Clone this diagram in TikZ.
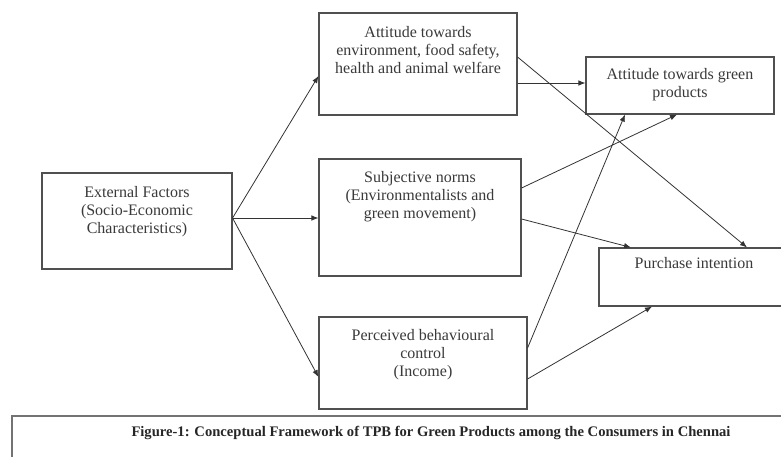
\documentclass[tikz,border=0pt]{standalone}
\usepackage{fontspec}
\setmainfont{Liberation Serif}
\usetikzlibrary{arrows.meta}
\definecolor{boxline}{HTML}{505050}
\definecolor{txt}{HTML}{3A3A3A}
\tikzset{
  fbox/.style={draw=boxline, line width=1.1pt, inner sep=0pt, fill=white},
  ftext/.style={anchor=north, inner sep=0pt, align=center, text=txt,
                font=\fontsize{16}{18}\selectfont},
  conn/.style={draw=black!80, line width=0.8pt, -{Latex[length=7pt,width=5.5pt]}},
}
\begin{document}
\begin{tikzpicture}[x=1pt,y=-1pt]
\useasboundingbox (0,0) rectangle (781,456);
% boxes
\node[fbox, minimum width=190pt, minimum height=96pt] (ext) at (137,221) {};
\node[fbox, minimum width=198pt, minimum height=102pt] (att) at (418,64) {};
\node[fbox, minimum width=188pt, minimum height=57pt] (grn) at (680,85.5) {};
\node[fbox, minimum width=202pt, minimum height=117pt] (sub) at (420,217.5) {};
\node[fbox, minimum width=190pt, minimum height=58pt] (pur) at (694,277) {};
\node[fbox, minimum width=208pt, minimum height=92pt] (per) at (423,363) {};
\node[draw=boxline!80, line width=1.6pt, inner sep=0pt, minimum width=790pt, minimum height=60pt, anchor=north west] (cap) at (11,415) {};
% texts
\node[ftext] (extT) at ([yshift=-14]ext.north) {External Factors\\(Socio-Economic\\Characteristics)};
\node[ftext] (attT) at ([yshift=-14]att.north) {Attitude towards\\environment, food safety,\\health and animal welfare};
\node[ftext] (grnT) at ([yshift=-12]grn.north) {Attitude towards green\\products};
\node[ftext] (subT) at ([yshift=-13]sub.north) {Subjective norms\\(Environmentalists and\\green movement)};
\node[ftext] (purT) at ([yshift=-10]pur.north) {Purchase intention};
\node[ftext] (perT) at ([yshift=-13]per.north) {Perceived behavioural\\control\\(Income)};
\node[anchor=center, inner sep=0pt, text=black!85, font=\fontsize{14.6}{17}\bfseries] (capT) at (431,433) {Figure-1: Conceptual Framework of TPB for Green Products among the Consumers in Chennai};
% connector endpoints
\coordinate (e0) at ([yshift=3]ext.east);
\coordinate (a1) at ([yshift=-12]att.west);
\coordinate (s1) at ([yshift=-0.5]sub.west);
\coordinate (p1) at ([yshift=-14]per.west);
\coordinate (ao1) at ([yshift=7]att.east);
\coordinate (ao2) at ([yshift=-19]att.east);
\coordinate (gi1) at ([yshift=2.5]grn.west);
\coordinate (gb1) at ([xshift=-3]grn.south);
\coordinate (gb2) at ([xshift=-55]grn.south);
\coordinate (so1) at ([yshift=29.5]sub.east);
\coordinate (so2) at ([yshift=-1.5]sub.east);
\coordinate (po1) at ([yshift=15]per.east);
\coordinate (po2) at ([yshift=-16]per.east);
\coordinate (pt1) at ([xshift=53]pur.north);
\coordinate (pt2) at ([xshift=-63]pur.north);
\coordinate (pb1) at ([xshift=-42]pur.south);
% connectors
\draw[conn] (e0) -- (a1);
\draw[conn] (e0) -- (s1);
\draw[conn] (e0) -- (p1);
\draw[conn] (ao1) -- (pt1);
\draw[conn] (ao2) -- (gi1);
\draw[conn] (so1) -- (gb1);
\draw[conn] (so2) -- (pt2);
\draw[conn] (po1) -- (gb2);
\draw[conn] (po2) -- (pb1);
\end{tikzpicture}
\end{document}
